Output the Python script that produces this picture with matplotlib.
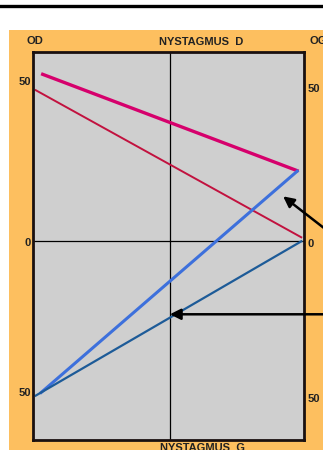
import matplotlib
matplotlib.use("Agg")
import matplotlib.pyplot as plt
from matplotlib.patches import Rectangle
from matplotlib.lines import Line2D

plt.rcParams['font.family'] = ['Liberation Sans Narrow', 'Liberation Sans', 'DejaVu Sans']

# données (x: 0..100, y: position en degrés)
x_pts = [3, 98]
y_od_fort = [54, 22.6]
x_od_faible = [1, 99]
y_od_faible = [48.7, 1.3]
x_og_fort = [3, 97.5]
y_og_fort = [-48.7, 22.6]
x_og_faible = [1, 99]
y_og_faible = [-49.7, 0]

y_ticks = [50, 0, -50]
y_tick_labels = ["50", "0", "50"]

W, H = 323, 450
fig = plt.figure(figsize=(W / 100, H / 100), dpi=100)
fig.patch.set_facecolor("white")

# fond orange + trait noir du haut
fig.add_artist(Rectangle((9 / W, 0), 1 - 9 / W, 1 - 30 / H, transform=fig.transFigure,
                         facecolor="#fdbf5f", edgecolor="none", zorder=0))
fig.add_artist(Line2D([0, 1], [1 - 6 / H, 1 - 6 / H], transform=fig.transFigure,
                      color="black", lw=2.4))

ax = fig.add_axes([33 / W, 1 - 440 / H, (304 - 33) / W, (440 - 52) / H])
ax.set_facecolor("#cfcfcf")
ax.set_xlim(0, 100)
ax.set_ylim(-64, 61)
for s in ax.spines.values():
    s.set_linewidth(2)
    s.set_color("#1a1010")
ax.set_xticks([])
ax.set_yticks([])

ax.axvline(50.5, color="black", lw=0.9)
ax.axhline(0, color="black", lw=0.9)

ax.plot(x_pts, y_od_fort, color="#d6006c", lw=2.4, solid_capstyle="butt")
ax.plot(x_od_faible, y_od_faible, color="#c2123f", lw=1.4)
ax.plot(x_og_fort, y_og_fort, color="#3d70dc", lw=2.2)
ax.plot(x_og_faible, y_og_faible, color="#1d5b98", lw=1.6)

fs = 8
for yv, lab in zip(y_ticks, y_tick_labels):
    dy = 1.2 if yv != 0 else -0.6
    ax.text(-0.8, yv + dy, lab, ha="right", va="center", fontsize=fs, fontweight="bold",
            color="#222", clip_on=False)
    ax.text(101.3, yv - 0.8, lab, ha="left", va="center", fontsize=fs, fontweight="bold",
            color="#222", clip_on=False)

fig.text(27 / W, 1 - 41 / H, "OD", ha="left", va="center", fontsize=fs, fontweight="bold", color="#222")
fig.text(309 / W, 1 - 41 / H, "OG", ha="left", va="center", fontsize=fs, fontweight="bold", color="#222")
fig.text(201 / W, 1 - 42 / H, "NYSTAGMUS  D", ha="center", va="center", fontsize=fs,
         fontweight="bold", color="#222")
fig.text(203 / W, 1 - 448 / H, "NYSTAGMUS  G", ha="center", va="center", fontsize=fs,
         fontweight="bold", color="#222")

arrow = dict(arrowstyle="-|>", color="black", lw=1.8, mutation_scale=16, shrinkA=0, shrinkB=0)
ax.annotate("", xy=(92.3, 14.5), xytext=(110, 2.5), arrowprops=arrow, annotation_clip=False)
ax.annotate("", xy=(50.5, -23.5), xytext=(110, -23.5), arrowprops=arrow, annotation_clip=False)

fig.savefig("out.png", dpi=100)
